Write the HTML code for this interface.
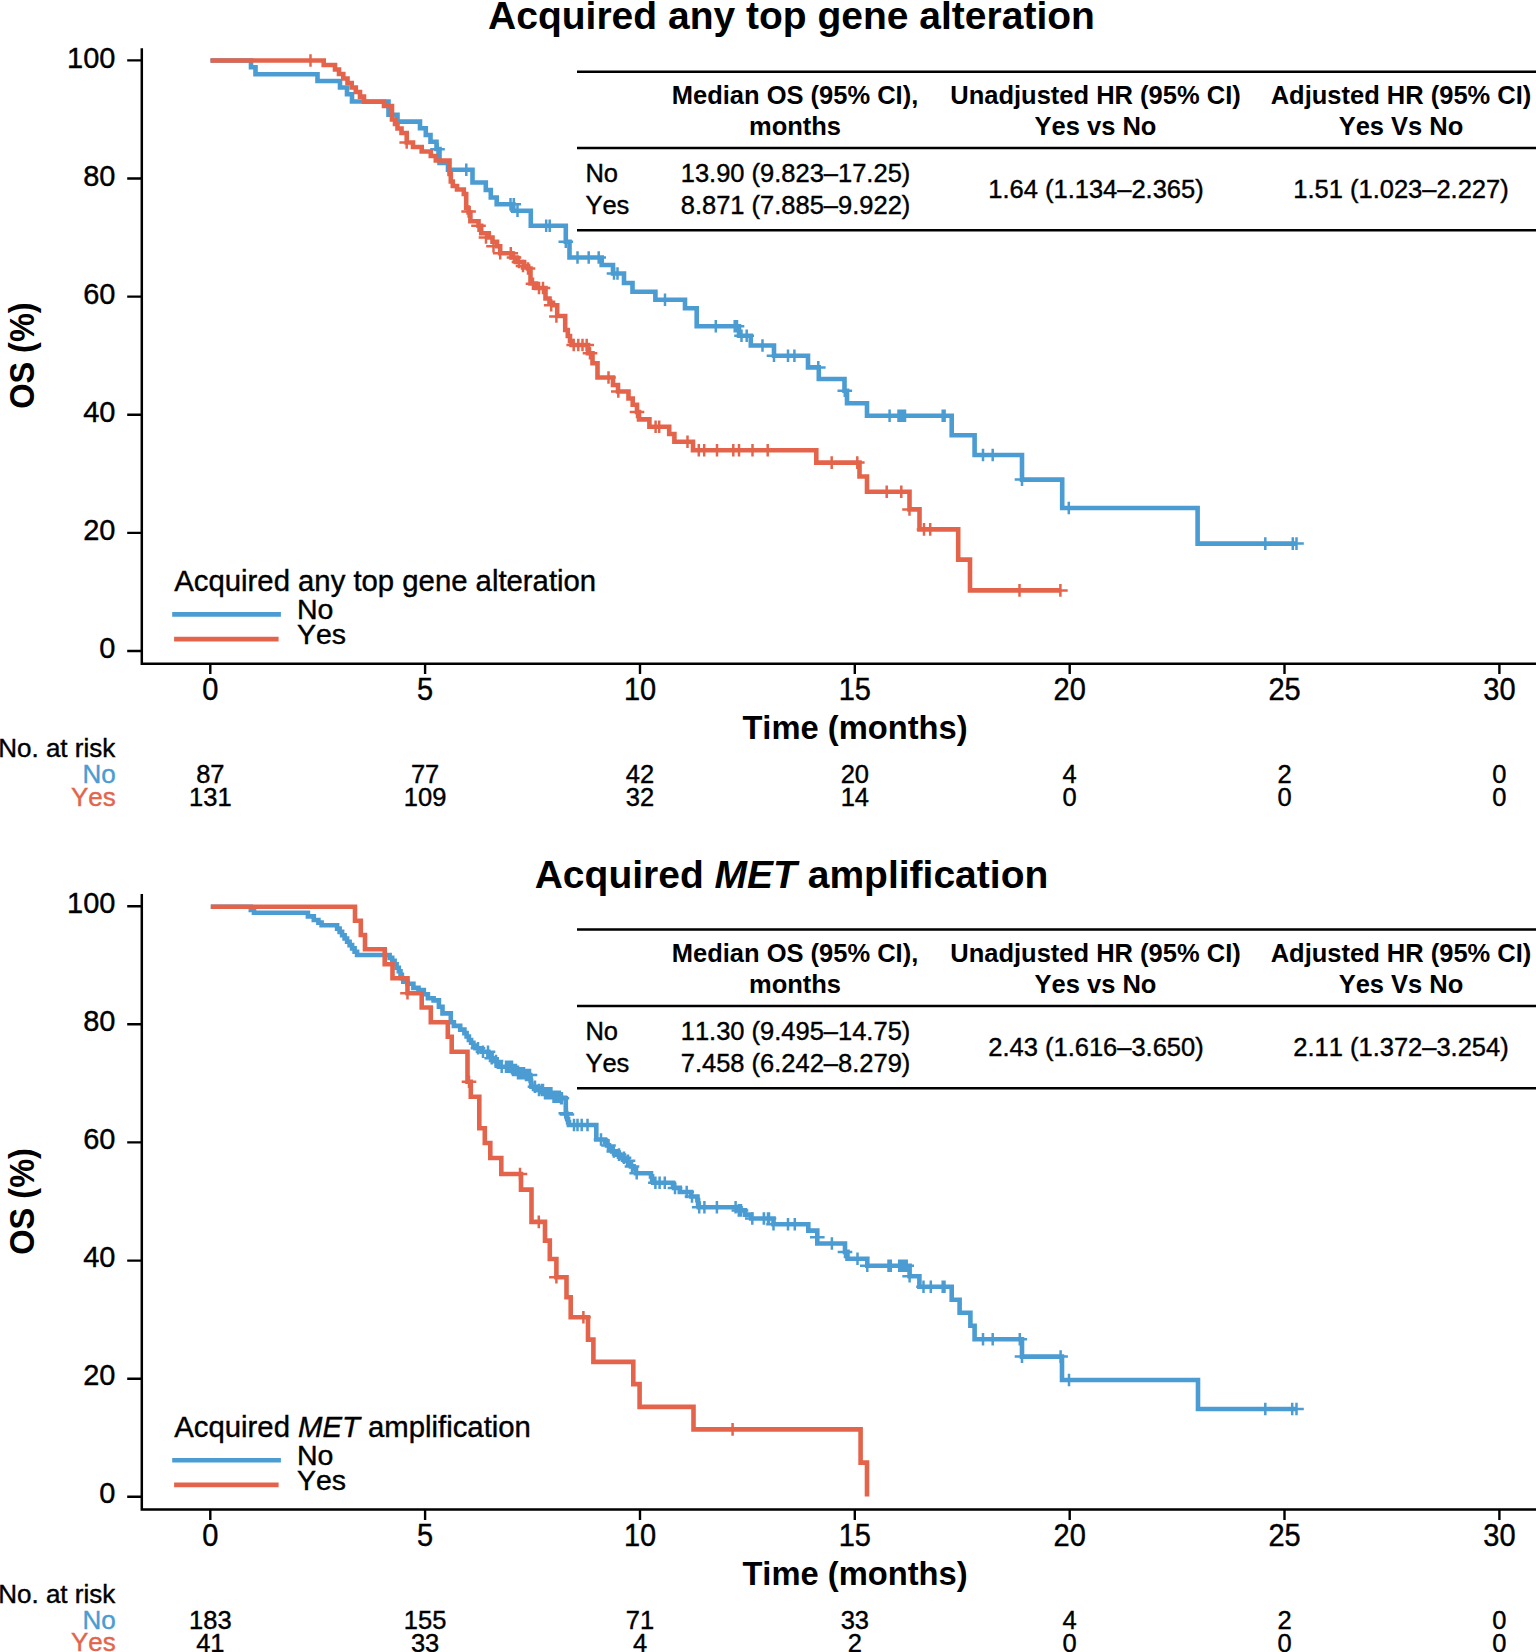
<!DOCTYPE html>
<html lang="en"><head><meta charset="utf-8"><title>Overall survival by acquired alteration</title>
<style>html,body{margin:0;padding:0;background:#fff;overflow:hidden;width:1536px;height:1652px}svg{display:block}text{font-family:"Liberation Sans",sans-serif;fill:#000;font-kerning:none}text{stroke:#000;stroke-width:.4px}.b{font-weight:bold;stroke:none}.i{font-style:italic}.t28{font-size:29px}.t24{font-size:25.5px}</style></head><body>
<svg width="1536" height="1652" viewBox="0 0 1536 1652">
<rect width="1536" height="1652" fill="#fff"/>
<text x="791.5" y="28.5" class="b" text-anchor="middle" style="font-size:39px">Acquired any top gene alteration</text>
<path d="M141.8 48.2V663.7H1536" fill="none" stroke="#000" stroke-width="2.5"/>
<path d="M127.2 60.4H141.8M127.2 178.5H141.8M127.2 296.6H141.8M127.2 414.8H141.8M127.2 532.9H141.8M127.2 651H141.8M210.3 663.7V674.1M425.1 663.7V674.1M640 663.7V674.1M854.8 663.7V674.1M1069.7 663.7V674.1M1284.5 663.7V674.1M1499.4 663.7V674.1" fill="none" stroke="#000" stroke-width="2.4"/>
<text transform="translate(115.4 67.5) scale(1 1.045)" class="t28" text-anchor="end">100</text>
<text transform="translate(115.4 185.6) scale(1 1.045)" class="t28" text-anchor="end">80</text>
<text transform="translate(115.4 303.7) scale(1 1.045)" class="t28" text-anchor="end">60</text>
<text transform="translate(115.4 421.9) scale(1 1.045)" class="t28" text-anchor="end">40</text>
<text transform="translate(115.4 540) scale(1 1.045)" class="t28" text-anchor="end">20</text>
<text transform="translate(115.4 658.1) scale(1 1.045)" class="t28" text-anchor="end">0</text>
<text transform="translate(210.3 699.9) scale(1 1.05)" class="t28" text-anchor="middle">0</text>
<text transform="translate(425.1 699.9) scale(1 1.05)" class="t28" text-anchor="middle">5</text>
<text transform="translate(640 699.9) scale(1 1.05)" class="t28" text-anchor="middle">10</text>
<text transform="translate(854.8 699.9) scale(1 1.05)" class="t28" text-anchor="middle">15</text>
<text transform="translate(1069.7 699.9) scale(1 1.05)" class="t28" text-anchor="middle">20</text>
<text transform="translate(1284.5 699.9) scale(1 1.05)" class="t28" text-anchor="middle">25</text>
<text transform="translate(1499.4 699.9) scale(1 1.05)" class="t28" text-anchor="middle">30</text>
<text transform="translate(34.2 355.6) rotate(-90) scale(1 1.07)" class="b" text-anchor="middle" style="font-size:32.5px">OS (%)</text>
<text x="855" y="739" class="b" text-anchor="middle" style="font-size:32.7px">Time (months)</text>
<path d="M210.5 60.5H251V67.2H255.5V74.3H317.5V81H340V87.5H347V94.3H352V101.5H388.5V114.8H397.5V121.6H420V128.2H425.8V135H430.5V141.8H436.5V149H439.5V163H448V169.8H472.5V182.5H485.8V190H490.8V197.5H496.7V204.2H513.3V210.8H530.8V225.8H565.8V241.7H569.5V257.5H601.7V265H613V273.5H624V283H632.5V291.7H655.4V299.8H685V308.3H696.7V326.3H739V335.8H750.8V345.5H774V355.8H808V367.4H818.8V379H844.5V390.8H847V403.3H867V415.7H951.7V435.2H974.6V455H1022V479.6H1062.2V508H1197.6V543.6H1296.5" fill="none" stroke="#4a9cd2" stroke-width="4.6" stroke-linejoin="miter" stroke-linecap="butt"/>
<path d="M437.5 142.9v12.6M430.2 149.2h14.6M466.3 163.5v12.6M459 169.8h14.6M510.5 197.9v12.6M503.2 204.2h14.6M513.8 197.9v12.6M506.5 204.2h14.6M517.5 204.5v12.6M510.2 210.8h14.6M546.2 219.5v12.6M538.9 225.8h14.6M549.7 219.5v12.6M542.4 225.8h14.6M565.8 235.4v12.6M558.5 241.7h14.6M577.5 251.2v12.6M570.2 257.5h14.6M588.7 251.2v12.6M581.4 257.5h14.6M598.7 251.2v12.6M591.4 257.5h14.6M614 267.2v12.6M606.7 273.5h14.6M617.5 267.2v12.6M610.2 273.5h14.6M665 293.5v12.6M657.7 299.8h14.6M715.8 320v12.6M708.5 326.3h14.6M734.7 320v12.6M727.4 326.3h14.6M737 320v12.6M729.7 326.3h14.6M741.5 329.5v12.6M734.2 335.8h14.6M746.7 329.5v12.6M739.4 335.8h14.6M762.5 339.2v12.6M755.2 345.5h14.6M774 349.5v12.6M766.7 355.8h14.6M788 349.5v12.6M780.7 355.8h14.6M794.4 349.5v12.6M787.1 355.8h14.6M818.3 361.1v12.6M811 367.4h14.6M844.8 384.5v12.6M837.5 390.8h14.6M889.6 409.4v12.6M882.3 415.7h14.6M898.5 409.4v12.6M891.2 415.7h14.6M900.7 409.4v12.6M893.4 415.7h14.6M902.9 409.4v12.6M895.6 415.7h14.6M905 409.4v12.6M897.7 415.7h14.6M942.7 409.4v12.6M935.4 415.7h14.6M944.6 409.4v12.6M937.3 415.7h14.6M983 448.7v12.6M975.7 455h14.6M992.7 448.7v12.6M985.4 455h14.6M1022 473.3v12.6M1014.7 479.6h14.6M1068.8 501.7v12.6M1061.5 508h14.6M1265.3 537.3v12.6M1258 543.6h14.6M1292.8 537.3v12.6M1285.5 543.6h14.6M1296.5 537.3v12.6M1289.2 543.6h14.6" fill="none" stroke="#4a9cd2" stroke-width="2.5"/>
<path d="M210.5 60.5H323.7V65H335V69.5H339V74H343.3V78.5H347.5V83H351.7V87.5H355.8V92H360V96.6H364V101.7H384V106H392V119.5H395V124H397.5V128.5H401.5V133H406.7V142.5H413V147H421.7V151.5H430.8V156H435.8V160.5H449.5V174H450.8V181.5H452.8V186H457V189.5H463.8V194H466.2V208H468.6V212.5H470.4V221.3H478.5V225.8H481.2V233.3H488.8V237.5H492.5V241.8H497V246.3H500.2V253.3H511.5V257.5H516.5V262H524V266H528V268.5H530.5V283.5H536V288H545.5V298.5H549.5V302.7H553V305.3H557.2V316H565.2V330H567.8V336H570V341H571.5V345H588V353.3H592.5V363.3H597.5V377.5H613V385H618V391.5H628.5V398.5H632.7V404.8H637V412H639V419.4H649.4V426.7H669.2V434H674.4V441.7H693V450.2H816.3V462.6H859.5V476.5H867V491.8H909.5V509.4H919.5V529.4H958.2V559.6H970V590.4H1060.4" fill="none" stroke="#e4644b" stroke-width="4.6" stroke-linejoin="miter" stroke-linecap="butt"/>
<path d="M310.5 54.2v12.6M303.2 60.5h14.6M406.7 136.2v12.6M399.4 142.5h14.6M468.6 205.2v12.6M461.3 211.5h14.6M478.5 219.5v12.6M471.2 225.8h14.6M486 231.2v12.6M478.7 237.5h14.6M493.5 240v12.6M486.2 246.3h14.6M500.2 247v12.6M492.9 253.3h14.6M510.8 247v12.6M503.5 253.3h14.6M514 251.2v12.6M506.7 257.5h14.6M519 255.7v12.6M511.7 262h14.6M523 259.7v12.6M515.7 266h14.6M528 262.2v12.6M520.7 268.5h14.6M533 277.5v12.6M525.7 283.8h14.6M539 281.7v12.6M531.7 288h14.6M543 281.7v12.6M535.7 288h14.6M551.2 299v12.6M543.9 305.3h14.6M556.4 310.2v12.6M549.1 316.5h14.6M573.7 338.7v12.6M566.4 345h14.6M578.3 338.7v12.6M571 345h14.6M582.5 338.7v12.6M575.2 345h14.6M586.7 338.7v12.6M579.4 345h14.6M590 347v12.6M582.7 353.3h14.6M608.5 371.2v12.6M601.2 377.5h14.6M618.3 385.2v12.6M611 391.5h14.6M637 405.7v12.6M629.7 412h14.6M655.6 420.4v12.6M648.3 426.7h14.6M659.2 420.4v12.6M651.9 426.7h14.6M687.5 435.4v12.6M680.2 441.7h14.6M698.8 443.9v12.6M691.5 450.2h14.6M704.2 443.9v12.6M696.9 450.2h14.6M717 443.9v12.6M709.7 450.2h14.6M733.3 443.9v12.6M726 450.2h14.6M739 443.9v12.6M731.7 450.2h14.6M752.5 443.9v12.6M745.2 450.2h14.6M767.7 443.9v12.6M760.4 450.2h14.6M831.7 456.3v12.6M824.4 462.6h14.6M857.3 456.3v12.6M850 462.6h14.6M886.7 485.5v12.6M879.4 491.8h14.6M901.3 485.5v12.6M894 491.8h14.6M909.5 503.1v12.6M902.2 509.4h14.6M924 523.1v12.6M916.7 529.4h14.6M930.2 523.1v12.6M922.9 529.4h14.6M1019.5 584.1v12.6M1012.2 590.4h14.6M1060.4 584.1v12.6M1053.1 590.4h14.6" fill="none" stroke="#e4644b" stroke-width="2.5"/>
<text x="174.3" y="591.2" class="" text-anchor="start" style="font-size:29.3px">Acquired any top gene alteration</text>
<path d="M172.2 614.4H280.9" stroke="#4a9cd2" stroke-width="4.6"/>
<path d="M174.1 639.1H278.6" stroke="#e4644b" stroke-width="4.6"/>
<text x="297" y="619.4" class="" text-anchor="start" style="font-size:28.5px">No</text>
<text x="297" y="643.8" class="" text-anchor="start" style="font-size:28.5px">Yes</text>
<text x="-1.8" y="757.3" class="" text-anchor="start" style="font-size:26px">No. at risk</text>
<text x="115.7" y="782.8" class="" text-anchor="end" style="font-size:26px;fill:#4a9cd2;stroke:#4a9cd2">No</text>
<text x="115.7" y="805.6" class="" text-anchor="end" style="font-size:26px;fill:#e4644b;stroke:#e4644b">Yes</text>
<text transform="translate(210.3 783) scale(1 1.035)" class="t24" text-anchor="middle">87</text>
<text transform="translate(210.3 806) scale(1 1.035)" class="t24" text-anchor="middle">131</text>
<text transform="translate(425.1 783) scale(1 1.035)" class="t24" text-anchor="middle">77</text>
<text transform="translate(425.1 806) scale(1 1.035)" class="t24" text-anchor="middle">109</text>
<text transform="translate(640 783) scale(1 1.035)" class="t24" text-anchor="middle">42</text>
<text transform="translate(640 806) scale(1 1.035)" class="t24" text-anchor="middle">32</text>
<text transform="translate(854.8 783) scale(1 1.035)" class="t24" text-anchor="middle">20</text>
<text transform="translate(854.8 806) scale(1 1.035)" class="t24" text-anchor="middle">14</text>
<text transform="translate(1069.7 783) scale(1 1.035)" class="t24" text-anchor="middle">4</text>
<text transform="translate(1069.7 806) scale(1 1.035)" class="t24" text-anchor="middle">0</text>
<text transform="translate(1284.5 783) scale(1 1.035)" class="t24" text-anchor="middle">2</text>
<text transform="translate(1284.5 806) scale(1 1.035)" class="t24" text-anchor="middle">0</text>
<text transform="translate(1499.4 783) scale(1 1.035)" class="t24" text-anchor="middle">0</text>
<text transform="translate(1499.4 806) scale(1 1.035)" class="t24" text-anchor="middle">0</text>
<path d="M577 71.8H1536M577 148H1536M577 230.3H1536" stroke="#000" stroke-width="2.5" fill="none"/>
<text x="795" y="104.4" class="b t24" text-anchor="middle">Median OS (95% CI),</text>
<text x="795" y="135.1" class="b t24" text-anchor="middle">months</text>
<text x="1095.5" y="104.4" class="b t24" text-anchor="middle">Unadjusted HR (95% CI)</text>
<text x="1095.5" y="135.1" class="b t24" text-anchor="middle">Yes vs No</text>
<text x="1401" y="104.4" class="b t24" text-anchor="middle">Adjusted HR (95% CI)</text>
<text x="1401" y="135.1" class="b t24" text-anchor="middle">Yes Vs No</text>
<text x="585.4" y="182.3" class="t24" text-anchor="start">No</text>
<text x="585.4" y="214" class="t24" text-anchor="start">Yes</text>
<text transform="translate(795.5 182.3) scale(1 1.035)" class="t24" text-anchor="middle">13.90 (9.823–17.25)</text>
<text transform="translate(795.5 214) scale(1 1.035)" class="t24" text-anchor="middle">8.871 (7.885–9.922)</text>
<text transform="translate(1096 198.3) scale(1 1.035)" class="t24" text-anchor="middle">1.64 (1.134–2.365)</text>
<text transform="translate(1401 198.3) scale(1 1.035)" class="t24" text-anchor="middle">1.51 (1.023–2.227)</text>
<text x="791.5" y="888" class="b" text-anchor="middle" style="font-size:39px">Acquired <tspan class="i">MET</tspan> amplification</text>
<path d="M141.8 894V1509.5H1536" fill="none" stroke="#000" stroke-width="2.5"/>
<path d="M127.2 906.2H141.8M127.2 1024.3H141.8M127.2 1142.4H141.8M127.2 1260.6H141.8M127.2 1378.7H141.8M127.2 1496.8H141.8M210.3 1509.5V1519.9M425.1 1509.5V1519.9M640 1509.5V1519.9M854.8 1509.5V1519.9M1069.7 1509.5V1519.9M1284.5 1509.5V1519.9M1499.4 1509.5V1519.9" fill="none" stroke="#000" stroke-width="2.4"/>
<text transform="translate(115.4 912.6) scale(1 1.045)" class="t28" text-anchor="end">100</text>
<text transform="translate(115.4 1030.7) scale(1 1.045)" class="t28" text-anchor="end">80</text>
<text transform="translate(115.4 1148.8) scale(1 1.045)" class="t28" text-anchor="end">60</text>
<text transform="translate(115.4 1267) scale(1 1.045)" class="t28" text-anchor="end">40</text>
<text transform="translate(115.4 1385.1) scale(1 1.045)" class="t28" text-anchor="end">20</text>
<text transform="translate(115.4 1503.2) scale(1 1.045)" class="t28" text-anchor="end">0</text>
<text transform="translate(210.3 1545.7) scale(1 1.05)" class="t28" text-anchor="middle">0</text>
<text transform="translate(425.1 1545.7) scale(1 1.05)" class="t28" text-anchor="middle">5</text>
<text transform="translate(640 1545.7) scale(1 1.05)" class="t28" text-anchor="middle">10</text>
<text transform="translate(854.8 1545.7) scale(1 1.05)" class="t28" text-anchor="middle">15</text>
<text transform="translate(1069.7 1545.7) scale(1 1.05)" class="t28" text-anchor="middle">20</text>
<text transform="translate(1284.5 1545.7) scale(1 1.05)" class="t28" text-anchor="middle">25</text>
<text transform="translate(1499.4 1545.7) scale(1 1.05)" class="t28" text-anchor="middle">30</text>
<text transform="translate(34.2 1201.4) rotate(-90) scale(1 1.07)" class="b" text-anchor="middle" style="font-size:32.5px">OS (%)</text>
<text x="855" y="1584.8" class="b" text-anchor="middle" style="font-size:32.7px">Time (months)</text>
<path d="M210.8 906.7H250.8H250.8V910H254H254V912.8H305H307.9V916.4H313.8V920H316.7H318.4V922.6H321.6V925.3H323.3H335.8H337.1V928.6H339.6V931.9H342.1V935.2H344.6V938.5H347.1V941.8H349.6V945.1H352.1V948.4H354.6V951.7H357.1V955H358.3H388.3H389.6V957.9H392.2V960.8H393.5H394.6V964.3H396.6V967.8H398.8V971.3H399.8H400.5V974.8H401.9V978.2H403.3V981.7H404H407.6V983.8H411.3H413.4V987.9H415.4H418.5V990H421.7H423.8V994.2H425.8H427.9V998.3H430H433.6V1000.4H437.3H438.9H438.9V1006.7H442.5H442.5V1013.4H450.8H450.8V1022.3H453.9V1025.9H460.2V1029.6H463.3H464.4V1033.1H466.6V1036.5H468.9V1040H470H471.1V1042.8H473.4V1045.5H475.6V1048.3H476.7H481.7V1051.7H486.7H488.4V1055H491.6V1058.3H493.3H494.4V1061.1H496.6V1063.9H498.9V1066.7H500H510H512.5V1070H517.5V1073.3H520H525V1075H530H530.2V1077.9H530.6V1080.8H531.1V1083.8H531.5V1086.7H531.7H535.9V1090H540H543.4V1093.3H546.7H551.7V1096.7H556.7H560.9V1098.3H565H565.8H565.8V1113.3H566.3V1116.2H567.2V1119.2H568.1V1122.1H569V1125H569.5H596.3H596.3V1139.5H604H605V1142.4H607V1145.4H609V1148.3H610H612.1V1151.4H616.2V1154.6H618.3H620.4V1157.7H624.6V1160.8H626.7H628.1V1163.6H630.9V1166.4H633.6V1169.2H635H636V1173.3H637H650.4H651V1176.4H652.1V1179.6H653.2V1182.7H653.8H672.5H673V1185.3H674.1V1187.9H674.6H679.8V1192H685H691V1196.5H697H697.4V1200.1H698.1V1203.7H698.8V1207.3H699.2H736.7H738.8V1210.4H740.8H745V1214.6H749.2H751.2V1218.5H753.3H773.5H773.5V1224.2H808.3H808.3V1230.6H817.3H817.3V1243.5H845H845V1251.9H847.5H847.5V1258.8H867.3H867.3V1265.8H909.6H909.6V1276.3H919.4H919.4V1286.7H951.7H951.7V1299.8H959.6H959.6V1312.7H970.4H970.4V1325.8H974.6H974.6V1339.2H1022H1022V1356.6H1062H1062V1380H1198H1198V1409H1296.5" fill="none" stroke="#4a9cd2" stroke-width="4.6" stroke-linejoin="miter" stroke-linecap="butt"/>
<path d="M478 1042v12.6M470.7 1048.3h14.6M483 1045.4v12.6M475.7 1051.7h14.6M488 1045.4v12.6M480.7 1051.7h14.6M491.7 1052v12.6M484.4 1058.3h14.6M496 1054.8v12.6M488.7 1061.1h14.6M501.7 1060.4v12.6M494.4 1066.7h14.6M506 1060.4v12.6M498.7 1066.7h14.6M510.8 1060.4v12.6M503.5 1066.7h14.6M513 1063.7v12.6M505.7 1070h14.6M516 1063.7v12.6M508.7 1070h14.6M521 1067v12.6M513.7 1073.3h14.6M526 1068.7v12.6M518.7 1075h14.6M530 1068.7v12.6M522.7 1075h14.6M535 1080.4v12.6M527.7 1086.7h14.6M539 1083.7v12.6M531.7 1090h14.6M542 1083.7v12.6M534.7 1090h14.6M545 1087v12.6M537.7 1093.3h14.6M548 1087v12.6M540.7 1093.3h14.6M550 1087v12.6M542.7 1093.3h14.6M554 1090.4v12.6M546.7 1096.7h14.6M558 1090.4v12.6M550.7 1096.7h14.6M561 1092v12.6M553.7 1098.3h14.6M574 1118.7v12.6M566.7 1125h14.6M577.5 1118.7v12.6M570.2 1125h14.6M581.7 1118.7v12.6M574.4 1125h14.6M587.5 1118.7v12.6M580.2 1125h14.6M601 1133.2v12.6M593.7 1139.5h14.6M608.5 1139.1v12.6M601.2 1145.4h14.6M613.8 1145.1v12.6M606.5 1151.4h14.6M619 1148.3v12.6M611.7 1154.6h14.6M624 1151.4v12.6M616.7 1157.7h14.6M628 1154.5v12.6M620.7 1160.8h14.6M632 1160.1v12.6M624.7 1166.4h14.6M636.7 1167v12.6M629.4 1173.3h14.6M655.4 1176.4v12.6M648.1 1182.7h14.6M659.6 1176.4v12.6M652.3 1182.7h14.6M664.8 1176.4v12.6M657.5 1182.7h14.6M675 1181.6v12.6M667.7 1187.9h14.6M686.7 1185.7v12.6M679.4 1192h14.6M692 1190.2v12.6M684.7 1196.5h14.6M699.2 1201v12.6M691.9 1207.3h14.6M704.4 1201v12.6M697.1 1207.3h14.6M716.9 1201v12.6M709.6 1207.3h14.6M735.6 1201v12.6M728.3 1207.3h14.6M738.8 1204.1v12.6M731.5 1210.4h14.6M741 1204.1v12.6M733.7 1210.4h14.6M752.3 1212.2v12.6M745 1218.5h14.6M763.8 1212.2v12.6M756.5 1218.5h14.6M769 1212.2v12.6M761.7 1218.5h14.6M764 1212.2v12.6M756.7 1218.5h14.6M768 1212.2v12.6M760.7 1218.5h14.6M773.5 1217.9v12.6M766.2 1224.2h14.6M788 1217.9v12.6M780.7 1224.2h14.6M794.8 1217.9v12.6M787.5 1224.2h14.6M831.9 1237.2v12.6M824.6 1243.5h14.6M857.5 1252.5v12.6M850.2 1258.8h14.6M867.3 1259.5v12.6M860 1265.8h14.6M888.5 1259.5v12.6M881.2 1265.8h14.6M890.8 1259.5v12.6M883.5 1265.8h14.6M899.2 1259.5v12.6M891.9 1265.8h14.6M901.7 1259.5v12.6M894.4 1265.8h14.6M904.2 1259.5v12.6M896.9 1265.8h14.6M906.7 1259.5v12.6M899.4 1265.8h14.6M923.5 1280.4v12.6M916.2 1286.7h14.6M930.8 1280.4v12.6M923.5 1286.7h14.6M942.7 1280.4v12.6M935.4 1286.7h14.6M944.5 1280.4v12.6M937.2 1286.7h14.6M983 1332.9v12.6M975.7 1339.2h14.6M992.7 1332.9v12.6M985.4 1339.2h14.6M1019.8 1332.9v12.6M1012.5 1339.2h14.6M1060.6 1350.3v12.6M1053.3 1356.6h14.6M1069 1373.7v12.6M1061.7 1380h14.6M1265.3 1402.7v12.6M1258 1409h14.6M1292.2 1402.7v12.6M1284.9 1409h14.6M1296.5 1402.7v12.6M1289.2 1409h14.6M508 1060.4v12.6M500.7 1066.7h14.6M510 1060.4v12.6M502.7 1066.7h14.6M512 1060.4v12.6M504.7 1066.7h14.6M514 1063.7v12.6M506.7 1070h14.6M516 1063.7v12.6M508.7 1070h14.6M518 1067v12.6M510.7 1073.3h14.6M520 1067v12.6M512.7 1073.3h14.6M522 1067v12.6M514.7 1073.3h14.6M524 1067v12.6M516.7 1073.3h14.6M526 1068.7v12.6M518.7 1075h14.6M528 1068.7v12.6M520.7 1075h14.6M543 1083.7v12.6M535.7 1090h14.6M545.1 1087v12.6M537.8 1093.3h14.6M547.2 1087v12.6M539.9 1093.3h14.6M549.3 1087v12.6M542 1093.3h14.6M551.4 1087v12.6M544.1 1093.3h14.6M553.5 1090.4v12.6M546.2 1096.7h14.6M555.6 1090.4v12.6M548.3 1096.7h14.6M557.7 1090.4v12.6M550.4 1096.7h14.6M559.8 1090.4v12.6M552.5 1096.7h14.6M561.9 1092v12.6M554.6 1098.3h14.6M565.8 1107v12.6M558.5 1113.3h14.6M566.9 1108.3v12.6M559.6 1114.6h14.6M817.3 1231v12.6M810 1237.3h14.6M845 1245.6v12.6M837.7 1251.9h14.6M909.6 1270v12.6M902.3 1276.3h14.6M1022 1350.3v12.6M1014.7 1356.6h14.6" fill="none" stroke="#4a9cd2" stroke-width="2.5"/>
<path d="M210.8 906.7H355V920.8H360.8V935H365V949.2H384.7V964.2H392.5V978.3H407.5V993.3H421.7V1007.5H430.8V1022.3H447.8V1036.7H451.7V1051.7H467.5V1081.7H470.8V1096.7H479.3V1128.2H484.8V1143H490.3V1158H501.3V1174H521V1189.6H531.5V1221.9H545V1240.6H549.8V1259H556.4V1277.3H566.5V1297.2H570.7V1317.3H588V1339.6H593.4V1361.9H633.3V1384.1H639.6V1406.9H693.5V1429.4H860.6V1462.6H867V1496.6" fill="none" stroke="#e4644b" stroke-width="4.6" stroke-linejoin="miter" stroke-linecap="butt"/>
<path d="M407.5 987v12.6M400.2 993.3h14.6M469 1075.4v12.6M461.7 1081.7h14.6M520 1167.7v12.6M512.7 1174h14.6M538.8 1215.6v12.6M531.5 1221.9h14.6M556.4 1271v12.6M549.1 1277.3h14.6M583.4 1311v12.6M576.1 1317.3h14.6M732.6 1423.1v12.6M725.3 1429.4h14.6" fill="none" stroke="#e4644b" stroke-width="2.5"/>
<text x="174.3" y="1437" class="" text-anchor="start" style="font-size:29.3px">Acquired <tspan class="i">MET</tspan> amplification</text>
<path d="M172.2 1460.2H280.9" stroke="#4a9cd2" stroke-width="4.6"/>
<path d="M174.1 1484.9H278.6" stroke="#e4644b" stroke-width="4.6"/>
<text x="297" y="1465.2" class="" text-anchor="start" style="font-size:28.5px">No</text>
<text x="297" y="1489.6" class="" text-anchor="start" style="font-size:28.5px">Yes</text>
<text x="-1.8" y="1603.1" class="" text-anchor="start" style="font-size:26px">No. at risk</text>
<text x="115.7" y="1628.6" class="" text-anchor="end" style="font-size:26px;fill:#4a9cd2;stroke:#4a9cd2">No</text>
<text x="115.7" y="1651.4" class="" text-anchor="end" style="font-size:26px;fill:#e4644b;stroke:#e4644b">Yes</text>
<text transform="translate(210.3 1628.8) scale(1 1.035)" class="t24" text-anchor="middle">183</text>
<text transform="translate(210.3 1651.8) scale(1 1.035)" class="t24" text-anchor="middle">41</text>
<text transform="translate(425.1 1628.8) scale(1 1.035)" class="t24" text-anchor="middle">155</text>
<text transform="translate(425.1 1651.8) scale(1 1.035)" class="t24" text-anchor="middle">33</text>
<text transform="translate(640 1628.8) scale(1 1.035)" class="t24" text-anchor="middle">71</text>
<text transform="translate(640 1651.8) scale(1 1.035)" class="t24" text-anchor="middle">4</text>
<text transform="translate(854.8 1628.8) scale(1 1.035)" class="t24" text-anchor="middle">33</text>
<text transform="translate(854.8 1651.8) scale(1 1.035)" class="t24" text-anchor="middle">2</text>
<text transform="translate(1069.7 1628.8) scale(1 1.035)" class="t24" text-anchor="middle">4</text>
<text transform="translate(1069.7 1651.8) scale(1 1.035)" class="t24" text-anchor="middle">0</text>
<text transform="translate(1284.5 1628.8) scale(1 1.035)" class="t24" text-anchor="middle">2</text>
<text transform="translate(1284.5 1651.8) scale(1 1.035)" class="t24" text-anchor="middle">0</text>
<text transform="translate(1499.4 1628.8) scale(1 1.035)" class="t24" text-anchor="middle">0</text>
<text transform="translate(1499.4 1651.8) scale(1 1.035)" class="t24" text-anchor="middle">0</text>
<path d="M577 929.5H1536M577 1006H1536M577 1088.3H1536" stroke="#000" stroke-width="2.5" fill="none"/>
<text x="795" y="962.4" class="b t24" text-anchor="middle">Median OS (95% CI),</text>
<text x="795" y="993.1" class="b t24" text-anchor="middle">months</text>
<text x="1095.5" y="962.4" class="b t24" text-anchor="middle">Unadjusted HR (95% CI)</text>
<text x="1095.5" y="993.1" class="b t24" text-anchor="middle">Yes vs No</text>
<text x="1401" y="962.4" class="b t24" text-anchor="middle">Adjusted HR (95% CI)</text>
<text x="1401" y="993.1" class="b t24" text-anchor="middle">Yes Vs No</text>
<text x="585.4" y="1040.3" class="t24" text-anchor="start">No</text>
<text x="585.4" y="1072" class="t24" text-anchor="start">Yes</text>
<text transform="translate(795.5 1040.3) scale(1 1.035)" class="t24" text-anchor="middle">11.30 (9.495–14.75)</text>
<text transform="translate(795.5 1072) scale(1 1.035)" class="t24" text-anchor="middle">7.458 (6.242–8.279)</text>
<text transform="translate(1096 1056.3) scale(1 1.035)" class="t24" text-anchor="middle">2.43 (1.616–3.650)</text>
<text transform="translate(1401 1056.3) scale(1 1.035)" class="t24" text-anchor="middle">2.11 (1.372–3.254)</text>
</svg></body></html>
